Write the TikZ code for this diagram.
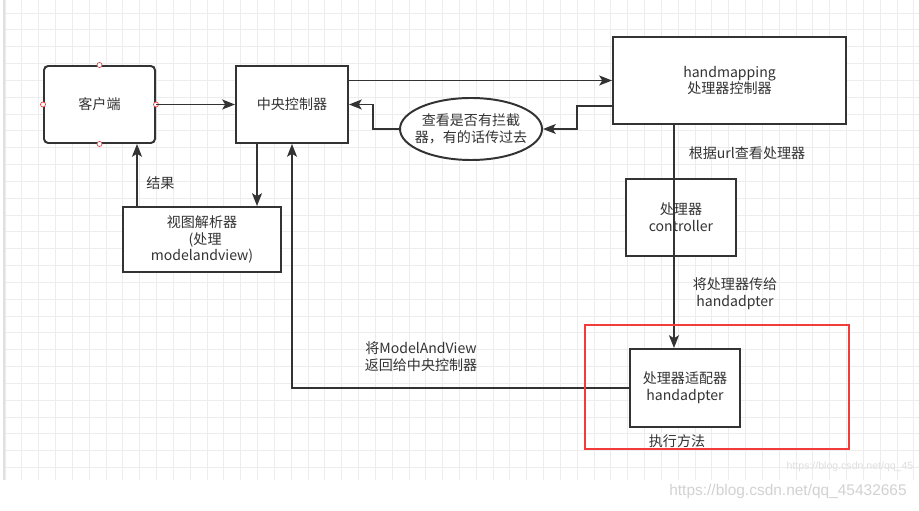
\documentclass[tikz,border=0pt]{standalone}
\usepackage{fontspec}
\setmainfont{Noto Sans CJK SC}
\newfontfamily\wmfont{Liberation Sans}
\usetikzlibrary{calc,arrows.meta,shapes.geometric}
\definecolor{ink}{HTML}{333333}
\definecolor{gridgray}{HTML}{EDEDED}
\definecolor{gridedge}{HTML}{E0E0E0}
\definecolor{redframe}{HTML}{F23B3B}
\definecolor{wmgray}{HTML}{D2D2D2}

\begin{document}
\begin{tikzpicture}[x=0.025cm,y=-0.025cm,
    box/.style={draw=ink,fill=white,line width=1.4pt,inner sep=0pt,align=center,text=ink,font=\fontsize{10}{12}\selectfont},
    arr/.style={draw=ink,line width=1.4pt,-{Stealth[length=9pt,width=7pt,inset=2pt]}},
    lbl/.style={text=ink,align=center,inner sep=0pt,font=\fontsize{10}{12}\selectfont},
    gridline/.style={draw=gridgray,line width=0.6pt},
    handle/.style={draw=redframe,fill=white,line width=0.5pt}]
		%%%%% START %%%%%
		\useasboundingbox (0,0) rectangle (919,511);
		\fill[white] (0,0) rectangle (919,511);
		
		% grid
		\begin{scope}
			\clip (4,0) rectangle (919,480);
			\foreach \k in {0,...,54} \draw[gridline] ({5+16.83*\k},0) -- ({5+16.83*\k},480);
			\foreach \k in {0,...,27} \draw[gridline] (4,{13+16.83*\k}) -- (919,{13+16.83*\k});
		\end{scope}
		\draw[gridedge,line width=0.8pt] (4,0) -- (4,480);
		
		% boxes
		\node[box,rounded corners=3pt,minimum width=2.775cm,minimum height=1.925cm] (client) at (99.5,104.5) {客户端};
		\foreach \a in {north,south,east,west} \draw[handle] (client.\a) circle (1.8pt);
		\node[box,minimum width=2.8cm,minimum height=1.925cm] (central) at (292,104.5) {中央控制器};
		\node[box,minimum width=5.825cm,minimum height=2.175cm] (mapping) at (729.5,80.5) {handmapping\\处理器控制器};
		\node[box,ellipse,inner xsep=-4.6pt,minimum width=3.55cm,minimum height=1.55cm] (filter) at (471,129) {查看是否有拦截\\器，有的话传过去};
		\node[box,minimum width=3.95cm,minimum height=1.625cm] (resolver) at (202,239.5) {视图解析器\\\ \ (处理\\modelandview)};
		\node[box,minimum width=2.75cm,minimum height=1.925cm] (handler) at (681,217.5) {处理器\\controller};
		\node[box,minimum width=2.75cm,minimum height=1.95cm] (adapter) at (685,388) {处理器适配器\\handadpter};
		
		% connectors
		\draw[arr] (client.east) -- (central.west);
		\draw[arr] (central.east |- mapping.west) -- (mapping.west);
		\draw[arr] ($(mapping.west)+(0,25.5)$) -- ++(-35,0) |- (filter.east);
		\draw[arr] (filter.west) -- ++(-26,0) |- (central.east);
		\draw[arr] ($(central.south west)+(22,0)$) coordinate (c1) -- (c1 |- resolver.north);
		\draw[arr] ($(resolver.north west)+(15,0)$) coordinate (v1) -- (v1 |- client.south);
		\draw[arr] (adapter.west) -| (central.south);
		\draw[arr] ($(mapping.south west)+(62,0)$) coordinate (m1) -- (m1 |- adapter.north);
		
		% labels
		\node[lbl,anchor=west] (lres) at (146,183) {结果};
		\node[lbl] (lurl) at (747,153) {根据url查看处理器};
		\node[lbl] (lpass) at (735,294) {将处理器传给\\handadpter};
		\node[lbl] (lback) at (421,357) {将ModelAndView\\返回给中央控制器};
		\node[lbl] (lexec) at (677,441) {执行方法};
		
		\draw[redframe,line width=2.1pt] (585,325) rectangle (849,449);
		
		% watermarks
		\node[text=wmgray!70,font=\wmfont\fontsize{7.5}{8}\selectfont,inner sep=0pt] (wm1) at (850,467) {https://blog.csdn.net/qq\_45};
		\node[text=wmgray,font=\wmfont\fontsize{11}{13}\selectfont,inner sep=0pt] (wm2) at (788,491) {https://blog.csdn.net/qq\_45432665};
		%%%%% END %%%%%
	\end{tikzpicture}
\end{document}
